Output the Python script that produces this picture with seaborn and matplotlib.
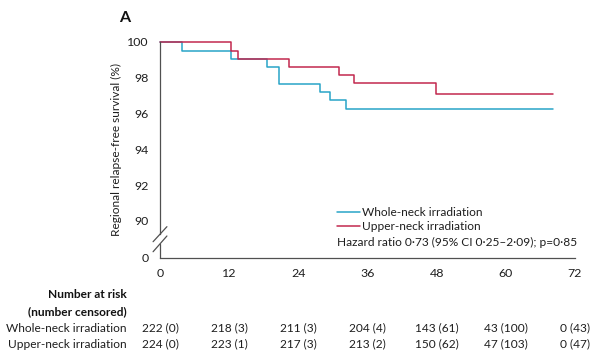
import numpy as np
import pandas as pd
import matplotlib
matplotlib.use('Agg')
import matplotlib.pyplot as plt
import matplotlib.transforms as mtransforms
import seaborn as sns

# Kaplan-Meier steps (months, % survival)
whole_t = [0, 3.9, 12.4, 18.6, 20.7, 27.7, 29.5, 32.3, 68.2]
whole_s = [100, 99.52, 99.04, 98.59, 97.65, 97.20, 96.76, 96.27, 96.27]
upper_t = [0, 12.3, 13.5, 22.3, 31.0, 33.7, 47.8, 68.2]
upper_s = [100, 99.52, 99.04, 98.59, 98.15, 97.69, 97.09, 97.09]

arms = ['Whole-neck irradiation', 'Upper-neck irradiation']
colors = ['#28a4c7', '#c2284e']

x_ticks = [0, 12, 24, 36, 48, 60, 72]
y_ticks = [90, 92, 94, 96, 98, 100]
zero_pos = 87.93  # where the "0" sits below the axis break

risk_whole = ['222 (0)', '218 (3)', '211 (3)', '204 (4)', '143 (61)', '43 (100)', '0 (43)']
risk_upper = ['224 (0)', '223 (1)', '217 (3)', '213 (2)', '150 (62)', '47 (103)', '0 (47)']

hr_text = 'Hazard ratio 0\u00b773 (95% CI 0\u00b725\u20132\u00b709); p=0\u00b785'

df = pd.concat([
    pd.DataFrame({'month': whole_t, 'surv': whole_s, 'arm': arms[0]}),
    pd.DataFrame({'month': upper_t, 'surv': upper_s, 'arm': arms[1]}),
])

sns.set_style('white')
plt.rcParams['font.family'] = ['Lato', 'DejaVu Sans']
txt = '#1e1e1e'
axcol = '#505050'
fs = 8.6

fig = plt.figure(figsize=(6, 3.56), dpi=100)
ax = fig.add_axes([160 / 600, 1 - 258 / 356, 415 / 600, 216 / 356])

sns.lineplot(data=df, x='month', y='surv', hue='arm', palette=dict(zip(arms, colors)),
             drawstyle='steps-post', estimator=None, linewidth=1.1, ax=ax, clip_on=False)

ax.set_xlim(0, 72)
ax.set_ylim(zero_pos, 100)
ax.set_xticks(x_ticks)
ax.set_xticklabels([str(v) for v in x_ticks])
ax.set_yticks([zero_pos] + y_ticks)
ax.set_yticklabels(['0'] + [str(v) for v in y_ticks])
ax.tick_params(axis='both', direction='out', length=5, width=0.9, color=axcol,
               labelsize=fs + 0.3, labelcolor=txt, pad=2)
ax.tick_params(axis='y', length=7, pad=1)
ax.set_xlabel('')
ax.set_ylabel('Regional relapse-free survival (%)', fontsize=fs, color=txt, labelpad=4)

for s in ['top', 'right']:
    ax.spines[s].set_visible(False)
ax.spines['bottom'].set_color(axcol)
ax.spines['bottom'].set_linewidth(0.9)
ax.spines['left'].set_color(axcol)
ax.spines['left'].set_linewidth(0.9)
ax.spines['left'].set_bounds(89.26, 100)

# axis break
ax.plot([0, 0], [zero_pos, 88.72], color=axcol, lw=0.9, clip_on=False)
ax.plot([-1.2, 1.2], [88.84, 89.68], color=axcol, lw=0.9, clip_on=False)
ax.plot([-1.2, 1.2], [88.28, 89.16], color=axcol, lw=0.9, clip_on=False)

# legend
leg = ax.legend(loc='upper left', bbox_to_anchor=(0.427, 0.237), frameon=False,
                fontsize=fs, handlelength=1.9, handletextpad=0.2, labelspacing=0.25,
                borderaxespad=0, borderpad=0)
for t in leg.get_texts():
    t.set_color(txt)
ax.text(0.427, 0.072, hr_text, transform=ax.transAxes, fontsize=fs, color=txt, va='center')

fig.text(125 / 600, 1 - 18 / 356, 'A', fontsize=11.5, fontweight='bold', color='#111111',
         ha='center', va='center')

# number at risk table
tr = mtransforms.blended_transform_factory(ax.transData, fig.transFigure)
fig.text(127 / 600, 1 - 294 / 356, 'Number at risk', ha='right', va='center',
         fontsize=fs, fontweight='bold', color='#111111')
fig.text(127 / 600, 1 - 312 / 356, '(number censored)', ha='right', va='center',
         fontsize=fs, fontweight='bold', color='#111111')
for row_y, name, vals in [(328, arms[0], risk_whole), (344, arms[1], risk_upper)]:
    fig.text(127 / 600, 1 - row_y / 356, name, ha='right', va='center', fontsize=fs, color=txt)
    for xv, v in zip(x_ticks, vals):
        ax.text(xv, 1 - row_y / 356, v, transform=tr, ha='center', va='center',
                fontsize=fs, color=txt, clip_on=False)

fig.savefig('out.png', dpi=100)
